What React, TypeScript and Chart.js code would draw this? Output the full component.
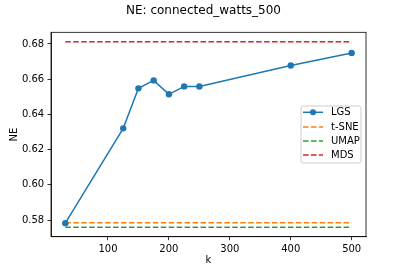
import React, { useEffect, useRef } from "react";
import { Chart, registerables } from "chart.js";

Chart.register(...registerables);

const kValues = [30, 125, 150, 175, 200, 225, 250, 400, 500];
const lgsValues = [0.5783, 0.6321, 0.6548, 0.6593, 0.6514, 0.6559, 0.6558, 0.6678, 0.6749];
const tsneValue = 0.5785;
const umapValue = 0.5759;
const mdsValue = 0.6813;
const xTicks = [100, 200, 300, 400, 500];
const yTicks = [0.58, 0.6, 0.62, 0.64, 0.66, 0.68];
const seriesNames = ["LGS", "t-SNE", "UMAP", "MDS"];
const seriesColors = ["#1f77b4", "#ff7f0e", "#2ca02c", "#d62728"];
const titleText = "NE: connected_watts_500";
const xTitle = "k";
const yTitle = "NE";

const FONT = "'DejaVu Sans', sans-serif";
const DASH = [5.55, 2.4];

const framePlugin = {
  id: "frameAndLegend",
  afterDraw(chart: any) {
    const ctx = chart.ctx;
    const a = chart.chartArea;
    ctx.save();
    ctx.strokeStyle = "#000";
    ctx.lineWidth = 0.8;
    ctx.strokeRect(a.left, a.top, a.right - a.left, a.bottom - a.top);

    // title
    ctx.fillStyle = "#000";
    ctx.font = `12px ${FONT}`;
    ctx.textAlign = "center";
    ctx.textBaseline = "middle";
    ctx.fillText(titleText, chart.width / 2, 10.7);

    // legend
    const bx = 301, by = 106, bw = 60, bh = 57;
    ctx.beginPath();
    const r = 2;
    ctx.moveTo(bx + r, by);
    ctx.lineTo(bx + bw - r, by);
    ctx.quadraticCurveTo(bx + bw, by, bx + bw, by + r);
    ctx.lineTo(bx + bw, by + bh - r);
    ctx.quadraticCurveTo(bx + bw, by + bh, bx + bw - r, by + bh);
    ctx.lineTo(bx + r, by + bh);
    ctx.quadraticCurveTo(bx, by + bh, bx, by + bh - r);
    ctx.lineTo(bx, by + r);
    ctx.quadraticCurveTo(bx, by, bx + r, by);
    ctx.closePath();
    ctx.fillStyle = "rgba(255,255,255,0.8)";
    ctx.fill();
    ctx.strokeStyle = "#cccccc";
    ctx.lineWidth = 1;
    ctx.stroke();

    const rowsY = [112.3, 127, 141, 155];
    ctx.font = `10px ${FONT}`;
    ctx.textBaseline = "middle";
    ctx.textAlign = "left";
    seriesNames.forEach((name, i) => {
      const y = rowsY[i];
      ctx.strokeStyle = seriesColors[i];
      ctx.lineWidth = 1.5;
      ctx.setLineDash(i === 0 ? [] : DASH);
      ctx.beginPath();
      ctx.moveTo(303, y);
      ctx.lineTo(323, y);
      ctx.stroke();
      ctx.setLineDash([]);
      if (i === 0) {
        ctx.fillStyle = seriesColors[0];
        ctx.beginPath();
        ctx.arc(313, y, 3, 0, Math.PI * 2);
        ctx.fill();
      }
      ctx.fillStyle = "#000";
      ctx.fillText(name, 331, y + 0.5);
    });
    ctx.restore();
  },
};

export default function App() {
  const ref = useRef<HTMLCanvasElement | null>(null);
  useEffect(() => {
    document.body.style.margin = "0";
    if (!ref.current) return;
    const xMin = kValues[0];
    const xMax = kValues[kValues.length - 1];
    const flat = (v: number) => [
      { x: xMin, y: v },
      { x: xMax, y: v },
    ];
    const chart = new Chart(ref.current, {
      type: "line",
      data: {
        datasets: [
          {
            label: seriesNames[0],
            data: kValues.map((k, i) => ({ x: k, y: lgsValues[i] })),
            borderColor: seriesColors[0],
            backgroundColor: seriesColors[0],
            borderWidth: 1.5,
            pointRadius: 3.2,
            pointBorderWidth: 0,
            tension: 0,
          },
          {
            label: seriesNames[1],
            data: flat(tsneValue),
            borderColor: seriesColors[1],
            borderWidth: 1.5,
            borderDash: DASH,
            pointRadius: 0,
          },
          {
            label: seriesNames[2],
            data: flat(umapValue),
            borderColor: seriesColors[2],
            borderWidth: 1.5,
            borderDash: DASH,
            pointRadius: 0,
          },
          {
            label: seriesNames[3],
            data: flat(mdsValue),
            borderColor: seriesColors[3],
            borderWidth: 1.5,
            borderDash: DASH,
            pointRadius: 0,
          },
        ],
      },
      options: {
        animation: false,
        responsive: false,
        devicePixelRatio: 1,
        layout: { padding: { left: 0, right: 41, top: 32.3, bottom: 0 } },
        plugins: {
          legend: { display: false },
          tooltip: { enabled: false },
          title: { display: false },
        },
        scales: {
          x: {
            type: "linear",
            min: 6.5,
            max: 523.5,
            afterBuildTicks: (s: any) => {
              s.ticks = xTicks.map((v) => ({ value: v }));
            },
            afterFit: (s: any) => {
              s.height = 34.3;
            },
            ticks: {
              color: "#000",
              font: { family: FONT, size: 10 },
              padding: 3,
              maxRotation: 0,
              autoSkip: false,
              callback: (v: any) => String(v),
            },
            grid: {
              display: true,
              drawOnChartArea: false,
              drawTicks: true,
              tickLength: 3.5,
              color: "#000",
              lineWidth: 0.8,
            },
            border: { display: true, color: "#000", width: 0.8 },
            title: {
              display: true,
              text: xTitle,
              color: "#000",
              font: { family: FONT, size: 10 },
              padding: { top: 4, bottom: 4.5 },
            },
          },
          y: {
            type: "linear",
            min: 0.5706,
            max: 0.6866,
            afterBuildTicks: (s: any) => {
              s.ticks = yTicks.map((v) => ({ value: v }));
            },
            afterFit: (s: any) => {
              s.width = 51;
            },
            ticks: {
              color: "#000",
              font: { family: FONT, size: 10 },
              padding: 3.3,
              autoSkip: false,
              callback: (v: any) => Number(v).toFixed(2),
            },
            grid: {
              display: true,
              drawOnChartArea: false,
              drawTicks: true,
              tickLength: 3.5,
              color: "#000",
              lineWidth: 0.8,
            },
            border: { display: true, color: "#000", width: 0.8 },
            title: {
              display: true,
              text: yTitle,
              color: "#000",
              font: { family: FONT, size: 10 },
              padding: { top: 8, bottom: 8 },
            },
          },
        },
      },
      plugins: [framePlugin],
    } as any);
    return () => chart.destroy();
  }, []);
  return (
    <div style={{ width: 407, height: 271 }}>
      <canvas ref={ref} width={407} height={271} style={{ display: "block" }} />
    </div>
  );
}
